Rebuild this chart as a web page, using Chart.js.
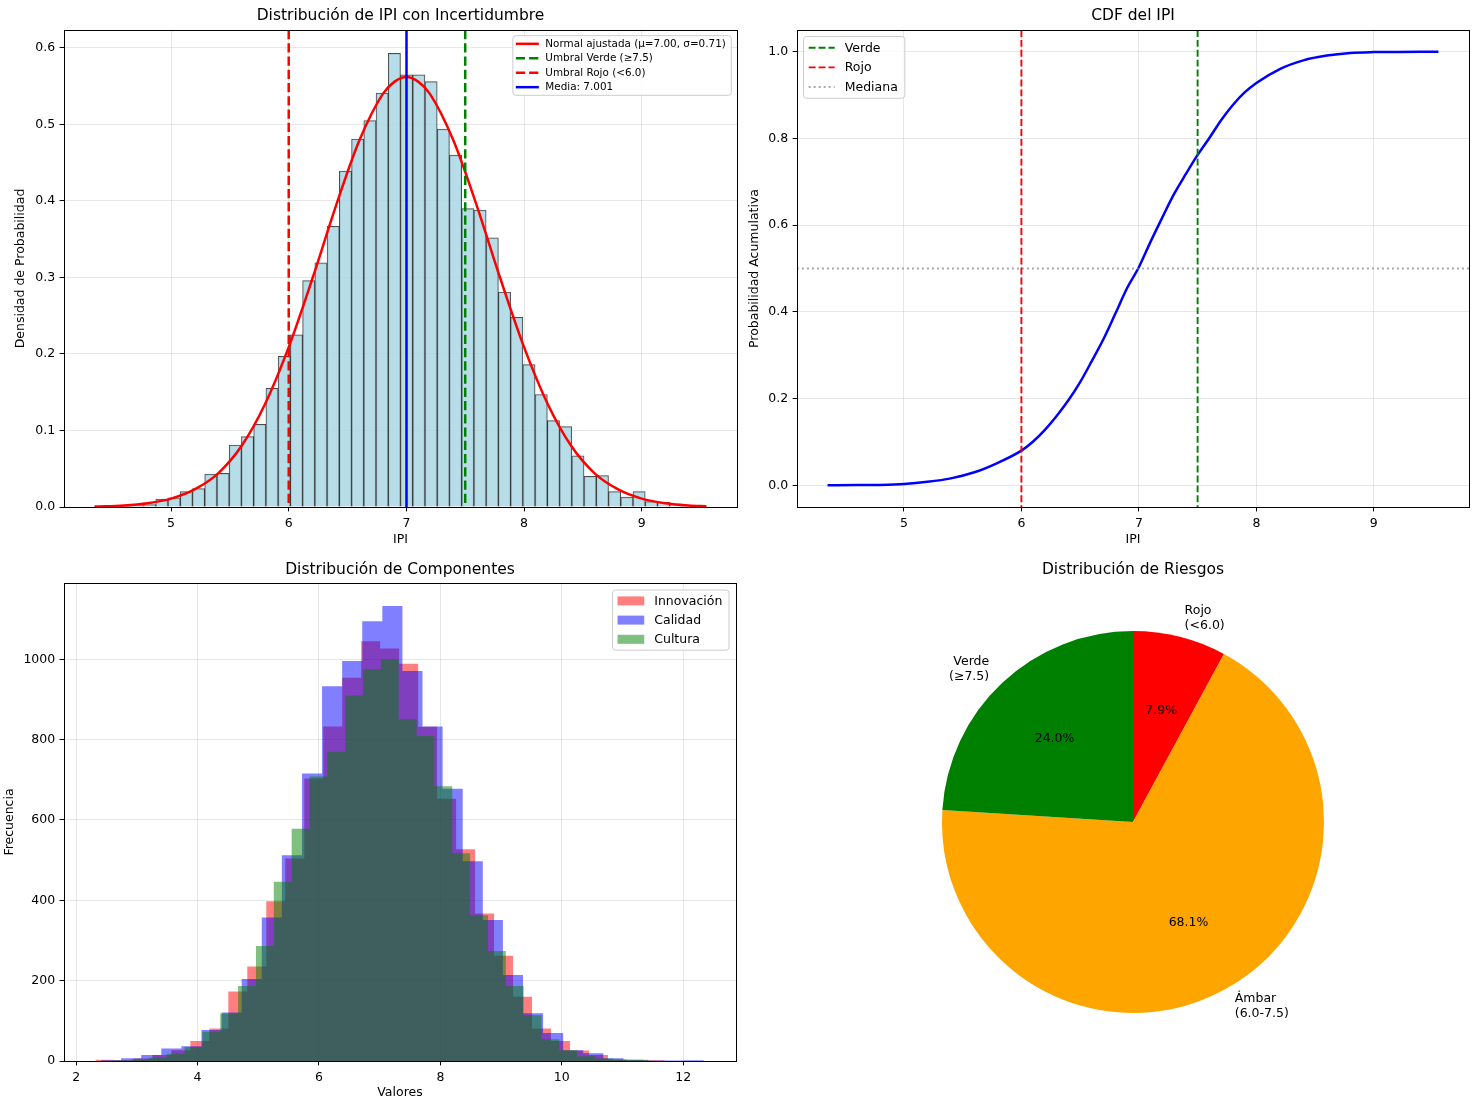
<!DOCTYPE html>
<html>
<head>
<meta charset="utf-8">
<script src="https://cdn.jsdelivr.net/npm/chart.js@4/dist/chart.umd.min.js"></script>
<style>
  html, body { margin: 0; padding: 0; background: #fff; }
  #wrap { position: relative; width: 1477px; height: 1103px; overflow: hidden; }
  canvas { position: absolute; }
</style>
</head>
<body>
<div id="wrap">
  <canvas id="histIPI" width="740" height="550" style="left:0px;top:0px"></canvas>
  <canvas id="cdfIPI" width="737" height="550" style="left:740px;top:0px"></canvas>
  <canvas id="compHist" width="740" height="550" style="left:0px;top:553px"></canvas>
  <canvas id="riskPie" width="737" height="550" style="left:740px;top:553px"></canvas>
</div>
<script>
// --- datos ---
// histograma IPI (densidad), 50 bins
const IPI_BIN_START = 4.35;
const IPI_BIN_WIDTH = 0.104;
const ipiDensidad = [
  0.001, 0, 0.001, 0.002, 0.003, 0.0105, 0.012, 0.020, 0.024, 0.043,
  0.044, 0.081, 0.092, 0.108, 0.155, 0.197, 0.225, 0.296, 0.319, 0.367,
  0.439, 0.481, 0.505, 0.541, 0.593, 0.565, 0.565, 0.556, 0.494, 0.460,
  0.390, 0.388, 0.352, 0.281, 0.248, 0.186, 0.147, 0.113, 0.105, 0.067,
  0.040, 0.041, 0.020, 0.013, 0.020, 0.007, 0.006, 0.004, 0.002, 0.001
];

// curva normal ajustada
const normalX = [4.35, 4.6, 4.8, 5.0, 5.2, 5.4, 5.6, 5.8, 6.0, 6.2, 6.4, 6.6, 6.8, 6.9, 7.0,
  7.1, 7.2, 7.4, 7.6, 7.8, 8.0, 8.2, 8.4, 8.6, 8.8, 9.0, 9.2, 9.4, 9.55];
const normalY = [0.0005, 0.002, 0.005, 0.011, 0.023, 0.044, 0.080, 0.135, 0.209, 0.298, 0.393, 0.479, 0.540, 0.556, 0.562,
  0.556, 0.540, 0.479, 0.393, 0.298, 0.209, 0.135, 0.080, 0.044, 0.023, 0.011, 0.005, 0.002, 0.001];

const UMBRAL_ROJO = 6.0;
const UMBRAL_VERDE = 7.5;
const MEDIA_IPI = 7.001;
const MEDIANA_PROB = 0.5;

// CDF
const cdfX = [4.35, 4.6, 4.8, 5.0, 5.2, 5.4, 5.6, 5.8, 6.0, 6.1, 6.2, 6.3, 6.4, 6.5, 6.6, 6.7, 6.8, 6.9, 7.0,
  7.1, 7.2, 7.3, 7.4, 7.5, 7.6, 7.7, 7.8, 7.9, 8.0, 8.2, 8.4, 8.6, 8.8, 9.0, 9.2, 9.55];
const cdfY = [0.0001, 0.0005, 0.001, 0.003, 0.008, 0.016, 0.030, 0.052, 0.080, 0.101, 0.128, 0.160, 0.196, 0.238, 0.287, 0.338, 0.396, 0.455, 0.503,
  0.562, 0.618, 0.672, 0.718, 0.762, 0.801, 0.842, 0.877, 0.906, 0.928, 0.960, 0.980, 0.991, 0.997, 0.999, 0.9995, 1.0];

// componentes: 30 bins cada uno, con su propio inicio y ancho
const componentes = ['Innovación', 'Calidad', 'Cultura'];
const compInicio = [2.318, 2.41, 2.61];
const compAncho = [0.3127, 0.331, 0.294];
const innovacion = [3, 2, 6, 15, 27, 50, 81, 173, 235, 398, 504, 703, 833, 954, 1045,
  1027, 989, 832, 653, 527, 367, 262, 160, 81, 50, 26, 15, 4, 1, 2];
const calidad = [2, 7, 15, 31, 37, 77, 121, 204, 357, 512, 716, 933, 996, 1095, 1133,
  971, 833, 678, 497, 351, 214, 119, 70, 27, 19, 7, 3, 1, 1, 2];
const cultura = [1, 4, 8, 18, 35, 73, 118, 187, 286, 446, 578, 708, 770, 910, 975,
  1000, 851, 809, 684, 517, 363, 274, 187, 114, 54, 27, 12, 6, 3, 3];

// riesgos (orden horario desde arriba)
const riesgoEtiquetas = ['Rojo\n(<6.0)', 'Ámbar\n(6.0-7.5)', 'Verde\n(≥7.5)'];
const riesgoPct = [7.9, 68.1, 24.0];
const riesgoColores = ['#ff0000', '#ffa500', '#008000'];

// ticks
const ipiTicks = [5, 6, 7, 8, 9];
const densTicks = [0, 0.1, 0.2, 0.3, 0.4, 0.5, 0.6];
const probTicks = [0, 0.2, 0.4, 0.6, 0.8, 1.0];
const valTicks = [2, 4, 6, 8, 10, 12];
const freqTicks = [0, 200, 400, 600, 800, 1000];

// --- estilo general ---
Chart.defaults.font.family = '"DejaVu Sans", sans-serif';
Chart.defaults.font.size = 12.5;
Chart.defaults.color = '#000';
const GRID = 'rgba(176,176,176,0.3)';

function escala(pos, min, max, valores, fmt, titulo, tPad, tam, z) {
  return {
    type: 'linear', position: pos, min: min, max: max, offset: false, z: z || 0,
    afterBuildTicks: s => { s.ticks = valores.map(v => ({ value: v })); },
    afterFit: s => { if (pos === 'left') s.width = tam; else s.height = tam; },
    ticks: { callback: fmt, padding: 4.4, maxRotation: 0, autoSkip: false },
    grid: { color: GRID, lineWidth: 1, tickColor: '#000', tickLength: 4.4, tickWidth: 1, offset: false },
    border: { display: false },
    title: { display: true, text: titulo, padding: tPad }
  };
}

const uno = v => v.toFixed(1);
const entero = v => String(v);

function titulo(texto, padTop, padBottom) {
  return { display: true, text: texto, fullSize: false, font: { size: 15.5, weight: 'normal' },
    padding: { top: padTop, bottom: padBottom } };
}

// lineas de referencia (axvline / axhline)
function lineasRef(lineas) {
  return {
    id: 'lineasRef',
    afterDatasetsDraw(chart) {
      const { ctx, chartArea: a, scales } = chart;
      ctx.save();
      ctx.beginPath(); ctx.rect(a.left, a.top, a.width, a.height); ctx.clip();
      lineas.forEach(l => {
        ctx.beginPath();
        ctx.strokeStyle = l.color; ctx.lineWidth = l.width; ctx.setLineDash(l.dash || []);
        if (l.eje === 'x') {
          const px = scales.x.getPixelForValue(l.valor);
          ctx.moveTo(px, a.top); ctx.lineTo(px, a.bottom);
        } else {
          const py = scales.y.getPixelForValue(l.valor);
          ctx.moveTo(a.left, py); ctx.lineTo(a.right, py);
        }
        ctx.stroke();
      });
      ctx.restore();
    }
  };
}

// marco de los ejes (4 spines)
const marco = {
  id: 'marco',
  afterDraw(chart) {
    const { ctx, chartArea: a } = chart;
    ctx.save();
    ctx.strokeStyle = '#000'; ctx.lineWidth = 1;
    ctx.strokeRect(Math.round(a.left) + 0.5, Math.round(a.top) + 0.5, Math.round(a.width), Math.round(a.height));
    ctx.restore();
  }
};

// leyenda estilo matplotlib dentro del area
function leyenda(items, c) {
  return {
    id: 'leyendaMpl',
    afterDraw(chart) {
      const { ctx, chartArea: a } = chart;
      ctx.save();
      ctx.font = c.size + 'px "DejaVu Sans"';
      const tw = Math.max(...items.map(it => ctx.measureText(it.label).width));
      const w = c.padX + c.handle + c.gap + tw + c.padR;
      const h = items.length * c.rowH + 2 * c.padY;
      const x0 = c.corner === 'ne' ? a.right - c.margin - w : a.left + c.margin;
      const y0 = a.top + c.margin;
      ctx.beginPath();
      ctx.roundRect(x0, y0, w, h, 3);
      ctx.fillStyle = 'rgba(255,255,255,0.8)';
      ctx.fill();
      ctx.strokeStyle = '#cccccc'; ctx.lineWidth = 1;
      ctx.stroke();
      items.forEach((it, i) => {
        const cy = y0 + c.padY + (i + 0.5) * c.rowH;
        const hx = x0 + c.padX;
        if (it.patch) {
          const ph = c.size * 0.72;
          ctx.fillStyle = it.color;
          ctx.fillRect(hx, cy - ph / 2, c.handle, ph);
        } else {
          ctx.beginPath();
          ctx.strokeStyle = it.color; ctx.lineWidth = it.width; ctx.setLineDash(it.dash || []);
          ctx.moveTo(hx, cy); ctx.lineTo(hx + c.handle, cy);
          ctx.stroke();
          ctx.setLineDash([]);
        }
        ctx.fillStyle = '#000';
        ctx.textBaseline = 'middle';
        ctx.textAlign = 'left';
        ctx.fillText(it.label, hx + c.handle + c.gap, cy + 0.5);
      });
      ctx.restore();
    }
  };
}

const comunes = { responsive: false, animation: false, events: [] };

// --- 1. histograma IPI ---
const refHist = [
  { eje: 'x', valor: UMBRAL_VERDE, color: '#008000', width: 2.5, dash: [9.25, 4], label: 'Umbral Verde (≥7.5)' },
  { eje: 'x', valor: UMBRAL_ROJO, color: '#ff0000', width: 2.5, dash: [9.25, 4], label: 'Umbral Rojo (<6.0)' },
  { eje: 'x', valor: MEDIA_IPI, color: '#0000ff', width: 2.5, label: 'Media: 7.001' }
];
const curvaNormal = { type: 'line', label: 'Normal ajustada (μ=7.00, σ=0.71)',
  data: normalX.map((x, i) => ({ x: x, y: normalY[i] })),
  borderColor: '#ff0000', borderWidth: 2.5, pointRadius: 0, cubicInterpolationMode: 'monotone', order: 0 };

new Chart(document.getElementById('histIPI'), {
  type: 'bar',
  data: {
    datasets: [
      curvaNormal,
      { type: 'bar', data: ipiDensidad.map((d, i) => ({ x: IPI_BIN_START + (i + 0.5) * IPI_BIN_WIDTH, y: d })),
        backgroundColor: 'rgba(173,216,230,0.88)', borderColor: 'rgba(0,0,0,0.7)', borderWidth: 1,
        barPercentage: 1, categoryPercentage: 1, order: 1 }
    ]
  },
  options: Object.assign({}, comunes, {
    layout: { padding: { left: 0, right: 3, top: 0, bottom: 0 } },
    scales: {
      x: escala('bottom', 4.09, 9.81, ipiTicks, entero, 'IPI', { top: 0, bottom: 2.4 }, 43),
      y: escala('left', 0, 0.6235, densTicks, uno, 'Densidad de Probabilidad', { top: 13.4, bottom: 0 }, 64)
    },
    plugins: { legend: { display: false }, tooltip: { enabled: false }, title: titulo('Distribución de IPI con Incertidumbre', 7, 4.4) }
  }),
  plugins: [lineasRef(refHist), marco, leyenda(
    [{ label: curvaNormal.label, color: '#ff0000', width: 2.5 }].concat(refHist),
    { corner: 'ne', size: 10.4, rowH: 14.45, handle: 23, padX: 3, gap: 6.5, padR: 5.5, padY: 0.9, margin: 5.7 })]
});

// --- 2. CDF ---
const refCdf = [
  { eje: 'x', valor: UMBRAL_VERDE, color: '#008000', width: 1.9, dash: [6.9, 3], label: 'Verde' },
  { eje: 'x', valor: UMBRAL_ROJO, color: '#ff0000', width: 1.9, dash: [6.9, 3], label: 'Rojo' },
  { eje: 'y', valor: MEDIANA_PROB, color: 'rgba(128,128,128,0.7)', width: 1.9, dash: [1.9, 3.1], label: 'Mediana' }
];
new Chart(document.getElementById('cdfIPI'), {
  type: 'line',
  data: {
    datasets: [{ data: cdfX.map((x, i) => ({ x: x, y: cdfY[i] })), borderColor: '#0000ff', borderWidth: 2.5,
      pointRadius: 0, cubicInterpolationMode: 'monotone' }]
  },
  options: Object.assign({}, comunes, {
    layout: { padding: { left: 0, right: 8, top: 0, bottom: 0 } },
    scales: {
      x: escala('bottom', 4.09, 9.81, ipiTicks, entero, 'IPI', { top: 0, bottom: 2.4 }, 43),
      y: escala('left', -0.05, 1.05, probTicks, uno, 'Probabilidad Acumulativa', { top: 7.4, bottom: 0 }, 57)
    },
    plugins: { legend: { display: false }, tooltip: { enabled: false }, title: titulo('CDF del IPI', 7, 4.4) }
  }),
  plugins: [lineasRef(refCdf), marco, leyenda(refCdf,
    { corner: 'nw', size: 12.5, rowH: 19.6, handle: 26, padX: 5.2, gap: 10, padR: 7, padY: 1.5, margin: 6.5 })]
});

// --- 3. componentes ---
function pasos(inicio, ancho, cuentas) {
  const pts = cuentas.map((c, i) => ({ x: inicio + i * ancho, y: c }));
  pts.push({ x: inicio + cuentas.length * ancho, y: cuentas[cuentas.length - 1] });
  return pts;
}
const compSeries = [innovacion, calidad, cultura];
const compColores = ['rgba(255,0,0,0.5)', 'rgba(0,0,255,0.5)', 'rgba(0,128,0,0.5)'];
new Chart(document.getElementById('compHist'), {
  type: 'line',
  data: {
    datasets: compSeries.map((s, k) => ({
      label: componentes[k], data: pasos(compInicio[k], compAncho[k], s), stepped: true, fill: 'origin',
      backgroundColor: compColores[k], borderColor: 'rgba(0,0,0,0)', borderWidth: 1, pointRadius: 0, order: 3 - k
    }))
  },
  options: Object.assign({}, comunes, {
    layout: { padding: { left: 0, right: 4, top: 0, bottom: 0 } },
    scales: {
      x: escala('bottom', 1.8, 12.87, valTicks, entero, 'Valores', { top: 0, bottom: 2.4 }, 42, 1),
      y: escala('left', 0, 1190, freqTicks, entero, 'Frecuencia', { top: 2.4, bottom: 0 }, 64, 1)
    },
    plugins: { legend: { display: false }, tooltip: { enabled: false }, title: titulo('Distribución de Componentes', 8, 3.4) }
  }),
  plugins: [marco, leyenda(componentes.map((c, k) => ({ label: c, color: compColores[k], patch: true })),
    { corner: 'ne', size: 12.5, rowH: 19.2, handle: 26.7, padX: 5, gap: 10, padR: 6.6, padY: 1.3, margin: 7 })]
});

// --- 4. riesgos ---
const etiquetasPie = {
  id: 'etiquetasPie',
  afterDatasetsDraw(chart) {
    const { ctx } = chart;
    const meta = chart.getDatasetMeta(0);
    const vals = chart.data.datasets[0].data;
    ctx.save();
    ctx.font = '12.5px "DejaVu Sans"';
    ctx.fillStyle = '#000';
    ctx.textBaseline = 'middle';
    meta.data.forEach((arc, i) => {
      const p = arc.getProps(['x', 'y', 'startAngle', 'endAngle', 'outerRadius'], true);
      const mid = (p.startAngle + p.endAngle) / 2;
      const c = Math.cos(mid), s = Math.sin(mid);
      // porcentaje
      ctx.textAlign = 'center';
      ctx.fillText(vals[i].toFixed(1) + '%', p.x + c * p.outerRadius * 0.6, p.y + s * p.outerRadius * 0.6);
      // etiqueta
      const lineas = chart.data.labels[i].split('\n');
      const lh = 15;
      const lx = p.x + c * p.outerRadius * 1.1;
      const ly = p.y + s * p.outerRadius * 1.1;
      ctx.textAlign = c > 0 ? 'left' : 'right';
      lineas.forEach((t, j) => ctx.fillText(t, lx, ly - (lineas.length - 1) * lh / 2 + j * lh));
    });
    ctx.restore();
  }
};
new Chart(document.getElementById('riskPie'), {
  type: 'pie',
  data: { labels: riesgoEtiquetas, datasets: [{ data: riesgoPct, backgroundColor: riesgoColores, borderWidth: 0 }] },
  options: Object.assign({}, comunes, {
    layout: { padding: { left: 202, right: 153, top: 0, bottom: 90 } },
    plugins: { legend: { display: false }, tooltip: { enabled: false }, title: titulo('Distribución de Riesgos', 8, 51.4) }
  }),
  plugins: [etiquetasPie]
});
</script>
</body>
</html>
